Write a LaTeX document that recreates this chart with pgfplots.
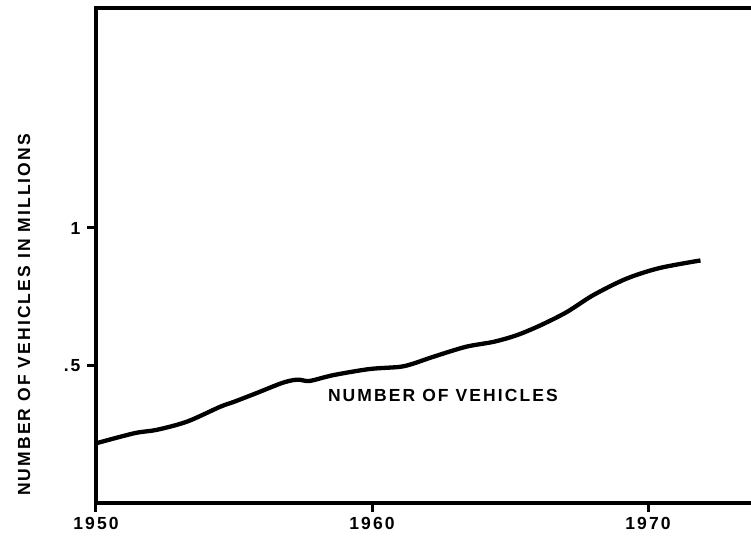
\documentclass[border=0pt]{standalone}
\usepackage{fontspec}
\setmainfont{Liberation Sans}
\newfontfamily\lett[LetterSpace=12]{Liberation Sans}
\usepackage{pgfplots}
\pgfplotsset{compat=1.18}
\begin{document}
\begin{tikzpicture}
\useasboundingbox (-96pt,-33pt) rectangle (655pt,503pt);
\begin{axis}[
  at={(0,0)}, anchor=south west,
  scale only axis, width=670.7pt, height=495pt,
  xmin=1950, xmax=1974.3, ymin=0, ymax=1.8,
  axis line style={line width=3.8pt},
  xtick={1950,1960,1970},
  ytick={0.5,1},
  xtick pos=bottom, ytick pos=left,
  tick align=outside, major tick length=9pt,
  tick style={line width=3pt,black},
  /pgf/number format/1000 sep={},
  /pgf/number format/skip 0.=true,
  /pgf/number format/assume math mode=true,
  ticklabel style={font=\lett\bfseries\fontsize{17.5}{20}\selectfont},
  xticklabel style={yshift=-2pt},
  yticklabel style={xshift=-3pt},
  ylabel={NUMBER OF VEHICLES IN MILLIONS},
  ylabel style={at={(rel axis cs:-0.1073,0.38)}, anchor=center, rotate=0,
    font=\lett\bfseries\fontsize{17.5}{20}\selectfont},
  clip=false,
]
\addplot[black, line width=4.3pt, smooth] coordinates {
(1950.0,0.217) (1951.4,0.254) (1952.2,0.266) (1953.3,0.296) (1954.5,0.350)
(1955.0,0.368) (1955.8,0.399) (1956.7,0.435) (1957.15,0.447) (1957.4,0.448)
(1957.75,0.444) (1958.6,0.465) (1959.9,0.487) (1961.0,0.495) (1961.5,0.507)
(1962.2,0.531) (1963.4,0.568) (1964.4,0.586) (1965.24,0.610) (1966.1,0.646)
(1967.05,0.694) (1968.0,0.755) (1969.2,0.815) (1970.4,0.854) (1971.9,0.882)
};
% tick marks (drawn through the axis as a safeguard)
\addplot[black, line width=3pt, forget plot] coordinates {(1950,0) (1950,-0.033)};
\addplot[black, line width=3pt, forget plot] coordinates {(1960,0) (1960,-0.033)};
\addplot[black, line width=3pt, forget plot] coordinates {(1970,0) (1970,-0.033)};
\addplot[black, line width=3pt, forget plot] coordinates {(1950,0.5) (1949.674,0.5)};
\addplot[black, line width=3pt, forget plot] coordinates {(1950,1) (1949.674,1)};
\node[font=\lett\bfseries\fontsize{17.5}{20}\selectfont] at (axis cs:1962.57,0.391) {NUMBER OF VEHICLES};
\end{axis}
\end{tikzpicture}
\end{document}
